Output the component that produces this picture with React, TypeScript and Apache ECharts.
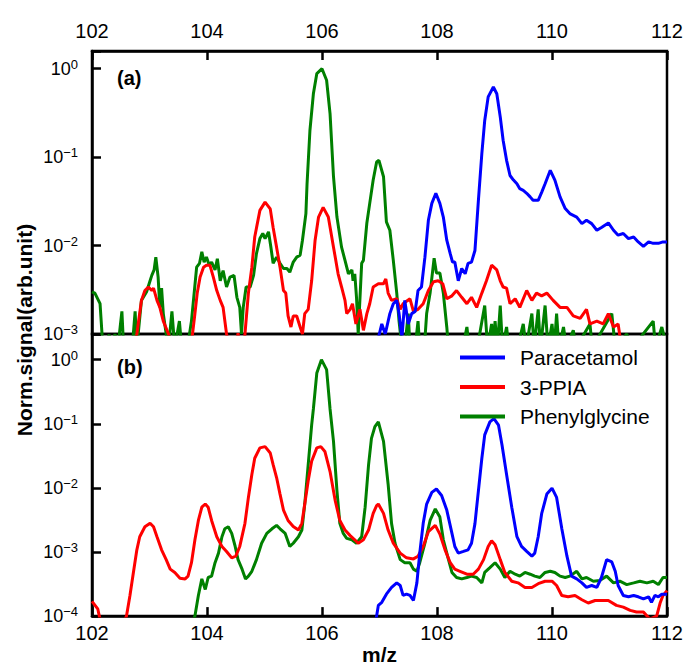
import React, { useEffect, useRef } from 'react';
import * as echarts from 'echarts';

const FONT = '"Liberation Sans", Arial, Helvetica, sans-serif';

// x axis (m/z)
const xMin = 102;
const xMax = 112;
const xStep = 2;

// y ranges (log axes)
const yMinA = 0.001;
const yMaxA = 1.585;
const yMinB = 0.0001;
const yMaxB = 2.512;

const seriesNames = ['Paracetamol', '3-PPIA', 'Phenylglycine'];
const seriesColors = ['#0000ff', '#ff0000', '#008000'];

// ---------------- panel (a) ----------------
const paracetamolA: [number, number][] = [
  [106.9, 0.0007], [106.98, 0.0009], [107.04, 0.0013], [107.1, 0.001], [107.18, 0.0017], [107.24, 0.0022],
  [107.3, 0.0024], [107.34, 0.0017], [107.39, 0.0009], [107.44, 0.0024], [107.5, 0.0013], [107.56, 0.0017],
  [107.62, 0.0018], [107.67, 0.0031], [107.73, 0.0034], [107.79, 0.0074], [107.85, 0.0193], [107.91, 0.03],
  [107.98, 0.039], [108.05, 0.03], [108.11, 0.021], [108.17, 0.0115], [108.23, 0.0081], [108.27, 0.0065],
  [108.31, 0.0065], [108.37, 0.004], [108.43, 0.0055], [108.49, 0.0048], [108.54, 0.0063], [108.6, 0.0065],
  [108.66, 0.0088], [108.72, 0.0325], [108.78, 0.11], [108.83, 0.26], [108.89, 0.48], [108.98, 0.62],
  [109.04, 0.52], [109.1, 0.285], [109.15, 0.155], [109.21, 0.092], [109.27, 0.062], [109.33, 0.055],
  [109.39, 0.05], [109.44, 0.044], [109.5, 0.042], [109.56, 0.039], [109.62, 0.0355], [109.67, 0.0325],
  [109.76, 0.0325], [109.82, 0.04], [109.88, 0.05], [109.97, 0.071], [110.05, 0.055], [110.14, 0.0355],
  [110.23, 0.0262], [110.31, 0.023], [110.43, 0.021], [110.52, 0.0177], [110.6, 0.0193], [110.69, 0.0177],
  [110.78, 0.0149], [110.86, 0.016], [110.98, 0.018], [111.07, 0.0149], [111.15, 0.0131], [111.24, 0.0137],
  [111.33, 0.012], [111.42, 0.0125], [111.5, 0.011], [111.59, 0.0098], [111.68, 0.011], [111.76, 0.0106],
  [111.85, 0.0106], [111.93, 0.011], [112.0, 0.011],
];

const ppiaA: [number, number][] = [
  [102.0, 0.0007], [102.72, 0.0007], [102.78, 0.001], [102.86, 0.0024], [102.92, 0.0031], [102.98, 0.0034],
  [103.04, 0.0031], [103.07, 0.0033], [103.13, 0.0024], [103.18, 0.002], [103.24, 0.0014], [103.33, 0.001],
  [103.4, 0.0007], [103.72, 0.0007], [103.79, 0.0017], [103.83, 0.0029], [103.88, 0.0044], [103.94, 0.0057],
  [103.99, 0.006], [104.05, 0.006], [104.11, 0.0044], [104.17, 0.0031], [104.23, 0.0024], [104.28, 0.002],
  [104.34, 0.001], [104.4, 0.0007], [104.5, 0.0007], [104.54, 0.00102], [104.58, 0.0007], [104.64, 0.0007],
  [104.66, 0.001], [104.72, 0.0029], [104.78, 0.0057], [104.83, 0.0125], [104.92, 0.025], [105.01, 0.031],
  [105.1, 0.026], [105.15, 0.016], [105.21, 0.0096], [105.27, 0.0057], [105.33, 0.0031], [105.37, 0.0029],
  [105.41, 0.0016], [105.46, 0.0012], [105.5, 0.0016], [105.56, 0.0016], [105.62, 0.0012], [105.66, 0.001],
  [105.7, 0.0017], [105.76, 0.0019], [105.82, 0.004], [105.88, 0.0115], [105.94, 0.021], [106.02, 0.027],
  [106.11, 0.021], [106.2, 0.0096], [106.28, 0.0048], [106.34, 0.0034], [106.4, 0.0024], [106.43, 0.0017],
  [106.49, 0.0019], [106.53, 0.0022], [106.59, 0.0013], [106.66, 0.0019], [106.72, 0.0011], [106.78, 0.0017],
  [106.83, 0.0022], [106.89, 0.0034], [106.98, 0.0037], [107.07, 0.0037], [107.11, 0.0042], [107.15, 0.0029],
  [107.21, 0.0024], [107.3, 0.0025], [107.36, 0.0019], [107.41, 0.0022], [107.53, 0.0025], [107.59, 0.0018],
  [107.67, 0.0019], [107.76, 0.0022], [107.85, 0.0031], [107.94, 0.0039], [108.02, 0.004], [108.1, 0.0037],
  [108.17, 0.0025], [108.26, 0.0027], [108.34, 0.0031], [108.43, 0.0026], [108.52, 0.0022], [108.6, 0.0026],
  [108.69, 0.002], [108.78, 0.0029], [108.86, 0.004], [108.95, 0.006], [109.04, 0.0053], [109.1, 0.004],
  [109.15, 0.0034], [109.21, 0.0033], [109.27, 0.0022], [109.36, 0.0025], [109.44, 0.002], [109.56, 0.0031],
  [109.65, 0.0024], [109.73, 0.0029], [109.82, 0.0027], [109.91, 0.0029], [110.02, 0.0024], [110.14, 0.002],
  [110.26, 0.002], [110.37, 0.0016], [110.49, 0.0015], [110.6, 0.0019], [110.66, 0.0013], [110.78, 0.0014],
  [110.89, 0.0013], [110.98, 0.0017], [111.07, 0.0012], [111.15, 0.0013], [111.21, 0.0007], [112.0, 0.0007],
];

const phenylglycineA: [number, number][] = [
  [102.0, 0.003], [102.05, 0.0029], [102.14, 0.0022], [102.19, 0.0007], [102.3, 0.00098], [102.35, 0.0007],
  [102.4, 0.001], [102.45, 0.0007], [102.49, 0.0012], [102.52, 0.0018], [102.55, 0.0007], [102.7, 0.0007],
  [102.75, 0.0018], [102.78, 0.0007], [102.86, 0.0024], [102.95, 0.003], [103.01, 0.004], [103.04, 0.0046],
  [103.08, 0.0053], [103.11, 0.0074], [103.15, 0.0044], [103.18, 0.002], [103.21, 0.0033], [103.24, 0.0017],
  [103.29, 0.001], [103.33, 0.0007], [103.39, 0.0018], [103.44, 0.0007], [103.52, 0.0014], [103.56, 0.0007],
  [103.66, 0.0007], [103.73, 0.0014], [103.82, 0.0057], [103.87, 0.0063], [103.91, 0.0085], [103.95, 0.0065],
  [103.99, 0.0074], [104.04, 0.006], [104.08, 0.0065], [104.14, 0.0053], [104.18, 0.0071], [104.23, 0.004],
  [104.28, 0.0052], [104.34, 0.0034], [104.4, 0.0044], [104.47, 0.0046], [104.52, 0.0026], [104.57, 0.002],
  [104.6, 0.001], [104.63, 0.002], [104.68, 0.0034], [104.75, 0.0034], [104.81, 0.0046], [104.86, 0.0081],
  [104.92, 0.012], [104.97, 0.0137], [105.01, 0.012], [105.07, 0.0143], [105.11, 0.0097], [105.15, 0.0063],
  [105.21, 0.0074], [105.27, 0.0063], [105.33, 0.0055], [105.39, 0.0055], [105.44, 0.005], [105.5, 0.0065],
  [105.56, 0.0074], [105.62, 0.0078], [105.66, 0.0115], [105.72, 0.023], [105.74, 0.05], [105.79, 0.2],
  [105.85, 0.52], [105.91, 0.88], [106.0, 1.0], [106.08, 0.74], [106.14, 0.31], [106.2, 0.06],
  [106.26, 0.021], [106.34, 0.0096], [106.4, 0.0068], [106.46, 0.0048], [106.52, 0.0053], [106.54, 0.004],
  [106.57, 0.0048], [106.6, 0.0026], [106.63, 0.001], [106.69, 0.0063], [106.72, 0.0068], [106.78, 0.018],
  [106.83, 0.03], [106.89, 0.055], [106.95, 0.088], [106.99, 0.092], [107.07, 0.06], [107.12, 0.0185],
  [107.18, 0.0149], [107.24, 0.0068], [107.3, 0.0029], [107.34, 0.0014], [107.39, 0.0007], [107.44, 0.0007],
  [107.5, 0.0017], [107.53, 0.0007], [107.62, 0.0007], [107.67, 0.0014], [107.7, 0.0007], [107.78, 0.0007],
  [107.82, 0.0017], [107.88, 0.0029], [107.95, 0.0072], [107.99, 0.0049], [108.05, 0.0049], [108.11, 0.0029],
  [108.17, 0.0012], [108.2, 0.0007], [108.3, 0.0007], [108.45, 0.0007], [108.52, 0.0012], [108.56, 0.0007],
  [108.7, 0.0007], [108.83, 0.0021], [108.88, 0.0007], [108.95, 0.0013], [108.98, 0.0007], [109.01, 0.0014],
  [109.05, 0.0007], [109.1, 0.0021], [109.14, 0.0007], [109.21, 0.0012], [109.25, 0.0007], [109.4, 0.0007],
  [109.5, 0.0013], [109.55, 0.0007], [109.65, 0.0017], [109.69, 0.0007], [109.76, 0.0019], [109.8, 0.0007],
  [109.88, 0.0021], [109.93, 0.0007], [110.0, 0.0013], [110.04, 0.0007], [110.08, 0.0017], [110.12, 0.0007],
  [110.2, 0.0012], [110.25, 0.0007], [110.37, 0.0011], [110.42, 0.0007], [110.66, 0.0013], [110.7, 0.0007],
  [111.04, 0.0017], [111.1, 0.0007], [111.3, 0.001], [111.4, 0.0007], [111.76, 0.0014], [111.8, 0.0007],
  [111.91, 0.0012], [112.0, 0.0007],
];

// ---------------- panel (b) ----------------
const paracetamolB: [number, number][] = [
  [106.93, 0.00008], [106.95, 0.0001], [106.98, 0.000147], [107.04, 0.000164], [107.12, 0.00022],
  [107.21, 0.00028], [107.3, 0.00033], [107.36, 0.0003], [107.41, 0.00021], [107.47, 0.00022], [107.53, 0.00021],
  [107.59, 0.000175], [107.65, 0.00033], [107.7, 0.00096], [107.76, 0.0028], [107.82, 0.0056], [107.91, 0.0085],
  [107.99, 0.0096], [108.08, 0.0076], [108.17, 0.0045], [108.26, 0.00195], [108.31, 0.00122], [108.37, 0.00096],
  [108.46, 0.00102], [108.54, 0.00108], [108.6, 0.00137], [108.66, 0.00277], [108.72, 0.009], [108.78, 0.029],
  [108.83, 0.067], [108.92, 0.107], [108.99, 0.12], [109.07, 0.095], [109.13, 0.047], [109.21, 0.0162],
  [109.3, 0.005], [109.39, 0.00173], [109.47, 0.00122], [109.56, 0.00102], [109.65, 0.00086], [109.7, 0.00096],
  [109.76, 0.00173], [109.82, 0.00395], [109.91, 0.008], [110.0, 0.0099], [110.08, 0.0071], [110.17, 0.00232],
  [110.26, 0.00086], [110.34, 0.00042], [110.43, 0.00038], [110.52, 0.00033], [110.6, 0.00028], [110.69, 0.0003],
  [110.78, 0.00028], [110.86, 0.0004], [110.95, 0.00076], [111.04, 0.0007], [111.1, 0.0005], [111.15, 0.0003],
  [111.24, 0.00021], [111.33, 0.0002], [111.42, 0.00021], [111.5, 0.0002], [111.59, 0.000185], [111.68, 0.0002],
  [111.73, 0.000164], [111.79, 0.00021], [111.85, 0.0002], [111.91, 0.00022], [112.0, 0.00022],
];

const ppiaB: [number, number][] = [
  [102.0, 0.00017], [102.1, 0.00013], [102.15, 0.00008], [102.55, 0.00008], [102.6, 0.0001], [102.66, 0.00021],
  [102.72, 0.00048], [102.78, 0.00108], [102.83, 0.00173], [102.92, 0.00247], [103.01, 0.0028], [103.07, 0.00247],
  [103.13, 0.00173], [103.21, 0.00108], [103.29, 0.00076], [103.36, 0.00054], [103.44, 0.00048], [103.53, 0.00039],
  [103.62, 0.00038], [103.67, 0.00042], [103.73, 0.00068], [103.79, 0.00155], [103.85, 0.0031], [103.91, 0.005],
  [103.97, 0.0056], [104.02, 0.005], [104.08, 0.0031], [104.17, 0.00173], [104.26, 0.00122], [104.34, 0.00102],
  [104.43, 0.00081], [104.5, 0.00086], [104.57, 0.00122], [104.66, 0.0028], [104.72, 0.0071], [104.78, 0.0162],
  [104.83, 0.029], [104.92, 0.042], [105.01, 0.044], [105.1, 0.035], [105.15, 0.023], [105.21, 0.0145],
  [105.27, 0.008], [105.33, 0.0045], [105.41, 0.0031], [105.5, 0.0025], [105.59, 0.0022], [105.65, 0.0028],
  [105.7, 0.0056], [105.76, 0.0129], [105.82, 0.026], [105.91, 0.042], [105.98, 0.044], [106.05, 0.037],
  [106.14, 0.018], [106.23, 0.0063], [106.31, 0.0031], [106.4, 0.0022], [106.49, 0.0018], [106.57, 0.00155],
  [106.63, 0.00137], [106.72, 0.00155], [106.81, 0.0022], [106.89, 0.004], [106.95, 0.0053], [106.98, 0.0056],
  [107.07, 0.004], [107.15, 0.0022], [107.24, 0.00137], [107.36, 0.00096], [107.47, 0.00081], [107.59, 0.00078],
  [107.67, 0.00086], [107.76, 0.00122], [107.85, 0.00207], [107.97, 0.0026], [108.05, 0.0019], [108.14, 0.00108],
  [108.23, 0.00068], [108.31, 0.00054], [108.4, 0.0005], [108.52, 0.00045], [108.63, 0.00045], [108.72, 0.00054],
  [108.81, 0.00076], [108.89, 0.00122], [108.95, 0.0015], [109.01, 0.0013], [109.1, 0.00076], [109.18, 0.00048],
  [109.3, 0.00035], [109.41, 0.00033], [109.53, 0.00028], [109.65, 0.00028], [109.76, 0.00032], [109.88, 0.00035],
  [110.0, 0.00035], [110.08, 0.0003], [110.17, 0.00021], [110.28, 0.0002], [110.4, 0.00021], [110.52, 0.00018],
  [110.63, 0.00016], [110.75, 0.000175], [110.86, 0.000175], [110.98, 0.000175], [111.12, 0.000147],
  [111.24, 0.000138], [111.36, 0.000123], [111.47, 0.000116], [111.59, 0.000116], [111.7, 0.00009],
  [111.82, 0.0001], [111.88, 0.00016], [111.93, 0.00021], [112.0, 0.00025],
];

const phenylglycineB: [number, number][] = [
  [103.75, 0.00008], [103.79, 0.0001], [103.85, 0.00021], [103.91, 0.00038], [103.97, 0.00026], [104.02, 0.0004],
  [104.08, 0.00042], [104.14, 0.00068], [104.2, 0.00096], [104.26, 0.00173], [104.31, 0.0023], [104.37, 0.00247],
  [104.43, 0.00195], [104.49, 0.00122], [104.54, 0.00076], [104.61, 0.00054], [104.67, 0.00038], [104.72, 0.00042],
  [104.78, 0.0005], [104.86, 0.00076], [104.95, 0.00137], [105.04, 0.00195], [105.13, 0.0023], [105.21, 0.0026],
  [105.27, 0.0023], [105.36, 0.00195], [105.44, 0.00122], [105.5, 0.00137], [105.59, 0.00173], [105.65, 0.0022],
  [105.7, 0.0056], [105.76, 0.023], [105.82, 0.095], [105.85, 0.17], [105.91, 0.62], [105.99, 1.0],
  [106.08, 0.7], [106.14, 0.17], [106.2, 0.053], [106.26, 0.009], [106.31, 0.0028], [106.37, 0.00195],
  [106.43, 0.00163], [106.52, 0.00155], [106.6, 0.00137], [106.69, 0.00173], [106.75, 0.005], [106.81, 0.023],
  [106.86, 0.059], [106.92, 0.09], [106.98, 0.107], [107.07, 0.053], [107.15, 0.0114], [107.21, 0.00277],
  [107.27, 0.00137], [107.36, 0.00076], [107.44, 0.00068], [107.53, 0.00068], [107.59, 0.00054], [107.65, 0.0005],
  [107.7, 0.00068], [107.79, 0.00137], [107.88, 0.0031], [107.97, 0.0047], [108.05, 0.0035], [108.11, 0.00155],
  [108.2, 0.00076], [108.26, 0.00048], [108.34, 0.0004], [108.43, 0.00038], [108.52, 0.0004], [108.6, 0.00042],
  [108.69, 0.0004], [108.78, 0.00033], [108.83, 0.00048], [108.92, 0.00057], [109.01, 0.00068], [109.1, 0.00054],
  [109.18, 0.0004], [109.27, 0.0005], [109.36, 0.00045], [109.44, 0.00042], [109.53, 0.00048], [109.62, 0.00045],
  [109.7, 0.00042], [109.79, 0.0004], [109.88, 0.00048], [109.97, 0.0005], [110.05, 0.00048], [110.14, 0.00042],
  [110.23, 0.0004], [110.31, 0.00042], [110.43, 0.0005], [110.52, 0.00038], [110.6, 0.0004], [110.72, 0.00035],
  [110.83, 0.00036], [110.95, 0.00042], [111.07, 0.00033], [111.18, 0.00035], [111.3, 0.00031], [111.42, 0.00033],
  [111.53, 0.00035], [111.65, 0.00033], [111.76, 0.00035], [111.85, 0.00031], [111.93, 0.0004], [112.0, 0.0004],
];

const panelLabels = ['(a)', '(b)'];
const yAxisTitle = 'Norm.signal(arb.unit)';
const xAxisTitle = 'm/z';

function powLabel(v: number): string {
  const lg = Math.log10(v);
  const e = Math.round(lg);
  if (Math.abs(lg - e) > 1e-6) return '';
  const s = e === 0 ? '0' : '\u2212' + Math.abs(e);
  return `{b|10}{s|${s}}`;
}

export default function App() {
  const ref = useRef<HTMLDivElement>(null);

  useEffect(() => {
    const chart = echarts.init(ref.current!, null, { renderer: 'svg' });
    const black = '#000';
    const axisLineStyle = { color: black, width: 2.5 };

    const richY = {
      b: { fontSize: 18, fontFamily: FONT, color: black, lineHeight: 22 },
      s: { fontSize: 13, fontFamily: FONT, color: black, verticalAlign: 'top', lineHeight: 13 },
    };

    const grids = [
      { left: 92, top: 51, width: 575, height: 283 },
      { left: 92, top: 334, width: 575, height: 287 },
    ].map((g) => ({ ...g, show: true, borderColor: black, borderWidth: 2.5, backgroundColor: 'transparent' }));

    const xAxisBase = {
      type: 'value',
      min: xMin,
      max: xMax,
      interval: xStep,
      axisLine: { show: true, lineStyle: axisLineStyle },
      axisTick: { show: true, inside: true, length: 9, lineStyle: { color: black, width: 2.5 } },
      splitLine: { show: false },
      axisLabel: { fontSize: 20, fontFamily: FONT, color: black },
    };

    const yAxisBase = {
      type: 'log',
      logBase: 10,
      axisLine: { show: true, lineStyle: axisLineStyle },
      axisTick: { show: true, inside: true, length: 9, lineStyle: { color: black, width: 2.5 } },
      minorTick: { show: false },
      splitLine: { show: false },
      axisLabel: { formatter: powLabel, rich: richY, margin: 14, color: black },
    };

    const panels = [
      [paracetamolA, ppiaA, phenylglycineA],
      [paracetamolB, ppiaB, phenylglycineB],
    ];

    const series: any[] = [];
    panels.forEach((sets, pi) => {
      // draw order: green, red, blue (blue on top)
      [2, 1, 0].forEach((si) => {
        series.push({
          type: 'line',
          name: seriesNames[si],
          xAxisIndex: pi,
          yAxisIndex: pi,
          data: sets[si],
          showSymbol: false,
          symbol: 'none',
          clip: true,
          lineStyle: { color: seriesColors[si], width: 3 },
          itemStyle: { color: seriesColors[si] },
          emphasis: { disabled: true },
        });
      });
    });

    const option: any = {
      animation: false,
      backgroundColor: '#fff',
      grid: grids,
      xAxis: [
        { ...xAxisBase, gridIndex: 0, position: 'top', axisLabel: { ...xAxisBase.axisLabel, margin: 10 } },
        {
          ...xAxisBase,
          gridIndex: 1,
          position: 'bottom',
          axisLabel: { ...xAxisBase.axisLabel, margin: 7 },
          name: xAxisTitle,
          nameLocation: 'middle',
          nameGap: 25,
          nameTextStyle: { fontSize: 21, fontWeight: 'bold', fontFamily: FONT, color: black },
        },
      ],
      yAxis: [
        { ...yAxisBase, gridIndex: 0, min: yMinA, max: yMaxA },
        { ...yAxisBase, gridIndex: 1, min: yMinB, max: yMaxB },
      ],
      legend: {
        data: seriesNames,
        orient: 'vertical',
        left: 455,
        top: 342,
        icon: 'rect',
        itemWidth: 45,
        itemHeight: 4,
        itemGap: 8.5,
        selectedMode: false,
        textStyle: { fontSize: 21, lineHeight: 21, fontFamily: FONT, color: black, padding: [0, 0, 0, 10] },
      },
      graphic: [
        {
          type: 'text',
          x: 24,
          y: 330,
          rotation: Math.PI / 2,
          style: {
            text: yAxisTitle,
            fontSize: 21,
            fontWeight: 'bold',
            fontFamily: FONT,
            fill: black,
            align: 'center',
            verticalAlign: 'middle',
          },
        },
        {
          type: 'text',
          x: 117,
          y: 78,
          style: { text: panelLabels[0], fontSize: 20, fontWeight: 'bold', fontFamily: FONT, fill: black, verticalAlign: 'middle' },
        },
        {
          type: 'text',
          x: 117,
          y: 367,
          style: { text: panelLabels[1], fontSize: 20, fontWeight: 'bold', fontFamily: FONT, fill: black, verticalAlign: 'middle' },
        },
      ],
      series,
    };

    chart.setOption(option);
    return () => chart.dispose();
  }, []);

  return <div ref={ref} style={{ position: 'fixed', left: 0, top: 0, width: 686, height: 666 }} />;
}
